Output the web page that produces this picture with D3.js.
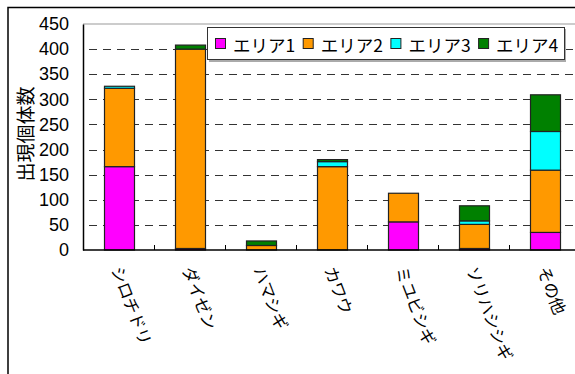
<!DOCTYPE html>
<html><head><meta charset="utf-8">
<script src="https://cdn.jsdelivr.net/npm/d3@7"></script>
<style>body{margin:0;background:#fff;}svg{display:block;}</style>
</head><body>
<svg id="c" width="575" height="374"></svg>
<script>
const categories = ["シロチドリ","ダイゼン","ハマシギ","カワウ","ミユビシギ","ソリハシシギ","その他"];
const seriesNames = ["エリア1","エリア2","エリア3","エリア4"];
const area1 = [166, 3, 0, 0, 56, 3, 35];
const area2 = [156, 397, 9, 166, 57, 48, 124];
const area3 = [4, 0, 0, 10, 0, 7, 77];
const area4 = [0, 8, 9, 4, 0, 30, 73];
const yTicks = [0,50,100,150,200,250,300,350,400,450];
const colors = ["#ff00ff","#ff9900","#00ffff","#008000"];

const svg = d3.select("#c");
const m = {left:83, right:580, top:24, bottom:250};
const x = d3.scaleBand().domain(categories).range([m.left, m.right]).paddingInner(0.58).paddingOuter(0.29);
const xOuter = d3.scaleBand().domain(categories).range([m.left, m.right]);
const y = d3.scaleLinear().domain([0,450]).range([m.bottom, m.top]);

// outer frame
svg.append("rect").attr("x",8).attr("y",7.5).attr("width",600).attr("height",400)
  .attr("fill","none").attr("stroke","#000").attr("stroke-width",1.5);

// plot top border (gray)
svg.append("line").attr("x1",m.left).attr("x2",m.right).attr("y1",m.top).attr("y2",m.top)
  .attr("stroke","#999").attr("stroke-width",1);

// gridlines
svg.append("g").selectAll("line").data(yTicks.filter(t=>t>0 && t<450)).join("line")
  .attr("x1",m.left).attr("x2",m.right)
  .attr("y1",d=>Math.round(y(d))+0.5).attr("y2",d=>Math.round(y(d))+0.5)
  .attr("stroke","#333").attr("stroke-dasharray","8,6").attr("stroke-dashoffset",-6);

// stacked data
const table = categories.map((c,i)=>({cat:c, "エリア1":area1[i], "エリア2":area2[i], "エリア3":area3[i], "エリア4":area4[i]}));
const stack = d3.stack().keys(seriesNames)(table);

svg.append("g").selectAll("g").data(stack).join("g")
  .attr("fill",(d,i)=>colors[i])
  .selectAll("rect").data(d=>d.filter(p=>p[1]-p[0]>0)).join("rect")
  .attr("x",d=>Math.round(x(d.data.cat))+0.5)
  .attr("width",Math.round(x.bandwidth()))
  .attr("y",d=>y(d[1]))
  .attr("height",d=>y(d[0])-y(d[1]))
  .attr("stroke","#222").attr("stroke-width",1.2);

// y axis
const yAxis = d3.axisLeft(y).tickValues(yTicks).tickSize(0).tickPadding(14);
const gy = svg.append("g").attr("transform",`translate(${m.left},0)`).call(yAxis);
gy.select(".domain").attr("stroke","#000").attr("stroke-width",1.5);
gy.selectAll("text").attr("font-family","Liberation Sans, Arial, sans-serif").attr("font-size",18).attr("fill","#000");

// x axis
const gx = svg.append("g").attr("transform",`translate(0,${m.bottom})`);
gx.append("line").attr("x1",m.left).attr("x2",m.right).attr("stroke","#000").attr("stroke-width",1.5);
gx.selectAll("line.tk").data(categories.slice(1)).join("line").attr("class","tk")
  .attr("x1",d=>Math.round(xOuter(d))+0.5).attr("x2",d=>Math.round(xOuter(d))+0.5)
  .attr("y1",-5).attr("y2",0).attr("stroke","#000");
gx.selectAll("text").data(categories).join("text")
  .attr("transform",d=>`translate(${x(d)+x.bandwidth()/2-1},${17}) rotate(69)`)
  .attr("text-anchor","start").attr("dominant-baseline","central")
  .attr("font-family","Noto Sans CJK JP, sans-serif").attr("font-size",16.5).attr("fill","#000")
  .text(d=>d);

// y title
svg.append("text").attr("transform","translate(24,134) rotate(-90)")
  .attr("text-anchor","middle").attr("dominant-baseline","central")
  .attr("font-family","Noto Sans CJK JP, sans-serif").attr("font-size",19).attr("fill","#000")
  .text("出現個体数");

// legend
const lg = svg.append("g");
lg.append("rect").attr("x",209).attr("y",29).attr("width",357).attr("height",33).attr("fill","#aaa");
lg.append("rect").attr("x",207.5).attr("y",27.5).attr("width",357).attr("height",32)
  .attr("fill","#fff").attr("stroke","#333").attr("stroke-width",1);
const items = lg.selectAll("g.it").data(seriesNames).join("g").attr("class","it")
  .attr("transform",(d,i)=>`translate(${215+i*87.7},0)`);
items.append("rect").attr("x",0.5).attr("y",38.5).attr("width",10).attr("height",10)
  .attr("fill",(d,i)=>colors[i]).attr("stroke","#222");
items.append("text").attr("x",18).attr("y",44).attr("dominant-baseline","central")
  .attr("font-family","Noto Sans CJK JP, sans-serif").attr("font-size",17.5).attr("fill","#000")
  .text(d=>d);
</script>
</body></html>
